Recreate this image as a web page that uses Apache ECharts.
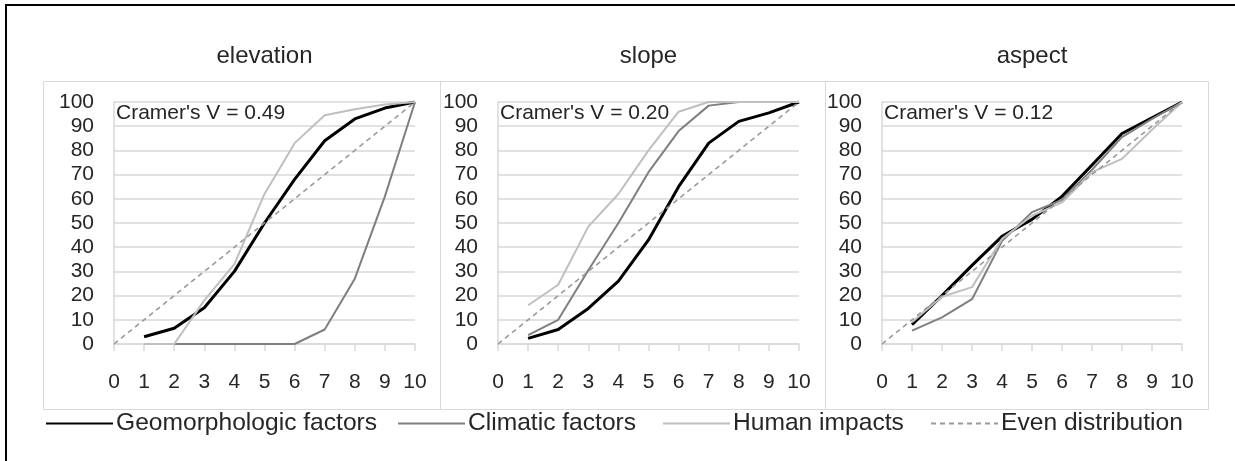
<!DOCTYPE html>
<html>
<head>
<meta charset="utf-8">
<script src="https://cdn.jsdelivr.net/npm/echarts@6/dist/echarts.min.js"></script>
<style>
html,body{margin:0;padding:0;background:#fff;}
#chart{width:1235px;height:461px;}
</style>
</head>
<body>
<div id="chart"></div>
<script>
// ---- data ----
const panelTitles = ['elevation', 'slope', 'aspect'];
const cramerTexts = ["Cramer's V = 0.49", "Cramer's V = 0.20", "Cramer's V = 0.12"];
const seriesNames = ['Geomorphologic factors', 'Climatic factors', 'Human impacts', 'Even distribution'];
const classX = [1, 2, 3, 4, 5, 6, 7, 8, 9, 10];
const evenX = [0, 1, 2, 3, 4, 5, 6, 7, 8, 9, 10];
const evenY = [0, 10, 20, 30, 40, 50, 60, 70, 80, 90, 100];
const xTicks = [0, 10];
const yTicks = [0, 100];

const elevationGeo = [3, 6.5, 15, 30, 50, 68, 84, 93, 97.5, 100];
const elevationCli = [0, 0, 0, 0, 0, 0, 6, 27, 61, 100];
const elevationHum = [0, 0, 18, 33, 62, 83, 94.5, 97, 99, 100];

const slopeGeo = [2.3, 6, 14.7, 26, 43, 65, 83, 92, 95.5, 100];
const slopeCli = [3.7, 10, 30.5, 50, 71, 88, 98.5, 100, 100, 100];
const slopeHum = [16, 24.5, 48.5, 62, 80, 96, 100, 100, 100, 100];

const aspectGeo = [8, 20, 32.5, 44.5, 51.5, 61, 74, 87, 93.5, 100];
const aspectCli = [5.5, 11, 18.5, 42.5, 54.5, 59.5, 72, 85.5, 93, 100];
const aspectHum = [9, 19.5, 23.5, 43.5, 53, 58.5, 71, 76.5, 88.5, 100];

const panelData = [
  [elevationGeo, elevationCli, elevationHum],
  [slopeGeo, slopeCli, slopeHum],
  [aspectGeo, aspectCli, aspectHum]
];

// ---- layout / style ----
const FONT = "'Liberation Sans', Arial, sans-serif";
const TXT = '#262626';
const GRIDC = '#d9d9d9';
const plotLeft = [114, 498, 882];
const plotWidth = [301, 301, 300];
const plotTop = 102, plotHeight = 242;
const boxes = [[43, 81, 397, 328], [440, 81, 385, 328], [825, 81, 383, 328]];
const legendLeft = [45, 397, 662, 930];
const lineStyles = [
  {color: '#000000', width: 3, type: 'solid'},
  {color: '#7f7f7f', width: 2, type: 'solid'},
  {color: '#bfbfbf', width: 2, type: 'solid'},
  {color: '#9a9a9a', width: 1.6, type: [5, 4]}
];

const zip = (xs, ys) => xs.map((x, i) => [x, ys[i]]);

const grids = [], xAxes = [], yAxes = [], series = [], titles = [], graphics = [], legends = [];

graphics.push({
  type: 'rect', shape: {x: 6, y: 5, width: 1300, height: 500},
  style: {fill: 'none', stroke: '#000', lineWidth: 2}, z: -10, silent: true
});

for (let p = 0; p < 3; p++) {
  const b = boxes[p];
  graphics.push({
    type: 'rect', shape: {x: b[0] + 0.5, y: b[1] + 0.5, width: b[2], height: b[3]},
    style: {fill: 'none', stroke: GRIDC, lineWidth: 1}, z: -5, silent: true
  });
  grids.push({left: plotLeft[p], top: plotTop, width: plotWidth[p], height: plotHeight, containLabel: false});
  xAxes.push({
    type: 'value', gridIndex: p, min: xTicks[0], max: xTicks[1], interval: 1,
    axisLine: {show: true, onZero: false, lineStyle: {color: GRIDC, width: 1.5}},
    axisTick: {show: true, length: 7, lineStyle: {color: GRIDC, width: 1.5}},
    splitLine: {show: false},
    axisLabel: {margin: 28, color: TXT, fontSize: 21, fontFamily: FONT}
  });
  yAxes.push({
    type: 'value', gridIndex: p, min: yTicks[0], max: yTicks[1], interval: 10,
    axisLine: {show: true, lineStyle: {color: GRIDC, width: 1.5}},
    axisTick: {show: false},
    splitLine: {show: true, lineStyle: {color: GRIDC, width: 1.5}},
    axisLabel: {margin: 20, color: TXT, fontSize: 21, fontFamily: FONT}
  });
  titles.push({
    text: panelTitles[p], left: plotLeft[p] + plotWidth[p] / 2, top: 44, textAlign: 'center', padding: 0,
    textStyle: {fontSize: 24, fontWeight: 'normal', color: TXT, fontFamily: FONT}
  });
  titles.push({
    text: cramerTexts[p], left: plotLeft[p] + 2, top: 103, padding: 0,
    textStyle: {fontSize: 21, fontWeight: 'normal', color: TXT, fontFamily: FONT}
  });
  for (let s = 0; s < 3; s++) {
    series.push({
      name: seriesNames[s], type: 'line', xAxisIndex: p, yAxisIndex: p,
      data: zip(classX, panelData[p][s]), symbol: 'none', showSymbol: false,
      lineStyle: lineStyles[s], itemStyle: {color: lineStyles[s].color},
      animation: false, z: 2 + s
    });
  }
  series.push({
    name: seriesNames[3], type: 'line', xAxisIndex: p, yAxisIndex: p,
    data: zip(evenX, evenY), symbol: 'none', showSymbol: false,
    lineStyle: lineStyles[3], itemStyle: {color: lineStyles[3].color},
    animation: false, z: 6
  });
}

for (let i = 0; i < seriesNames.length; i++) {
  legends.push({
    data: [seriesNames[i]], left: legendLeft[i], top: 411, itemWidth: 67, itemHeight: 1,
    padding: 0, selectedMode: false,
    textStyle: {fontSize: 24.6, color: TXT, fontFamily: FONT, padding: [0, 0, 0, -2]}
  });
}

const chart = echarts.init(document.getElementById('chart'), null, {renderer: 'canvas'});
chart.setOption({
  backgroundColor: '#ffffff',
  animation: false,
  title: titles,
  graphic: graphics,
  grid: grids,
  xAxis: xAxes,
  yAxis: yAxes,
  legend: legends,
  series: series
});
</script>
</body>
</html>
